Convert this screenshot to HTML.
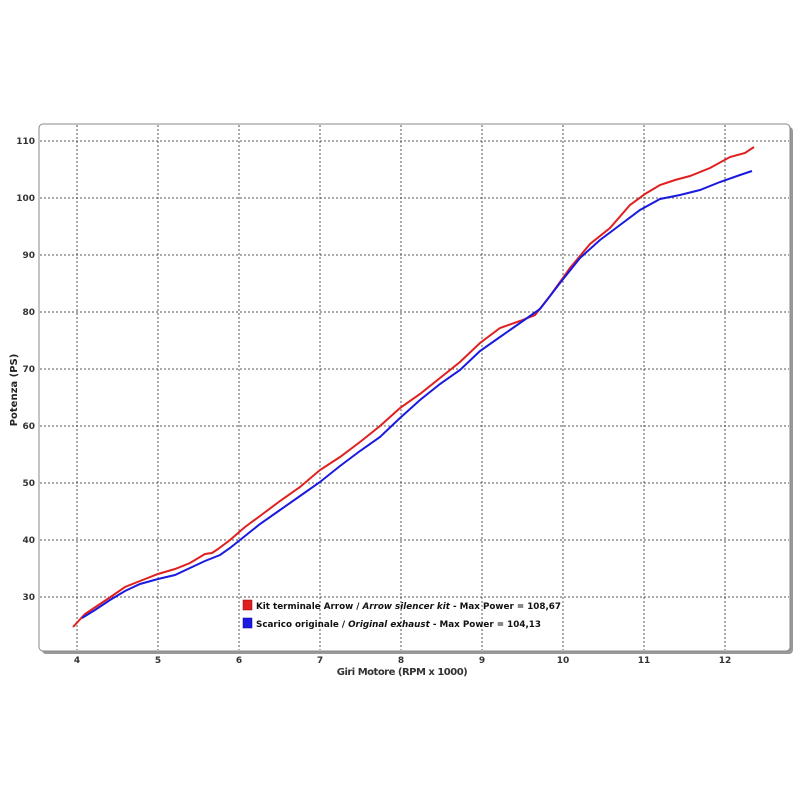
<!DOCTYPE html>
<html><head><meta charset="utf-8"><style>
html,body{margin:0;padding:0;background:#fff;width:800px;height:800px;overflow:hidden}
svg text{font-family:"DejaVu Sans","Liberation Sans",sans-serif}
</style></head><body>
<svg width="800" height="800" viewBox="0 0 800 800" xmlns="http://www.w3.org/2000/svg">
<rect x="42" y="127" width="751" height="527" rx="4" fill="#999"/>
<rect x="39" y="124" width="751" height="527" rx="4" fill="#fff" stroke="#888" stroke-width="1"/>
<g stroke="#555" stroke-width="1" stroke-dasharray="2,2" fill="none">
<line x1="77" y1="125" x2="77" y2="650"/><line x1="158" y1="125" x2="158" y2="650"/>
<line x1="239" y1="125" x2="239" y2="650"/><line x1="320" y1="125" x2="320" y2="650"/>
<line x1="401" y1="125" x2="401" y2="650"/><line x1="482" y1="125" x2="482" y2="650"/>
<line x1="563" y1="125" x2="563" y2="650"/><line x1="644" y1="125" x2="644" y2="650"/>
<line x1="725" y1="125" x2="725" y2="650"/>
<line x1="40" y1="141" x2="789" y2="141"/><line x1="40" y1="198" x2="789" y2="198"/>
<line x1="40" y1="255" x2="789" y2="255"/><line x1="40" y1="312" x2="789" y2="312"/>
<line x1="40" y1="369" x2="789" y2="369"/><line x1="40" y1="426" x2="789" y2="426"/>
<line x1="40" y1="483" x2="789" y2="483"/><line x1="40" y1="540" x2="789" y2="540"/>
<line x1="40" y1="597" x2="789" y2="597"/>
</g>
<g font-size="9" font-weight="bold" fill="#333" text-anchor="end">
<text x="35" y="144">110</text><text x="35" y="201">100</text><text x="35" y="258">90</text>
<text x="35" y="315">80</text><text x="35" y="372">70</text><text x="35" y="429">60</text>
<text x="35" y="486">50</text><text x="35" y="543">40</text><text x="35" y="600">30</text>
</g>
<g font-size="9" font-weight="bold" fill="#333" text-anchor="middle">
<text x="77" y="663">4</text><text x="158" y="663">5</text><text x="239" y="663">6</text>
<text x="320" y="663">7</text><text x="401" y="663">8</text><text x="482" y="663">9</text>
<text x="563" y="663">10</text><text x="644" y="663">11</text><text x="725" y="663">12</text>
<text x="402" y="675" font-size="10" letter-spacing="-0.5">Giri Motore (RPM x 1000)</text>
</g>
<text x="17" y="390" font-size="10" font-weight="bold" fill="#222" text-anchor="middle" transform="rotate(-90 17 390)">Potenza (PS)</text>
<polyline fill="none" stroke="#e02020" stroke-width="2" points="73,627 85,614 100,604 112,596 125,587 140,581 158,574 175,569 190,563 205,554 212,553 218,549 230,540 245,527 260,516 280,501 300,487 320,470 340,457 360,442 380,426 400,408 420,394 440,378 460,362 480,343 500,328 520,321 535,315 550,296 570,268 590,244 610,228 630,205 645,194 660,185 675,180 690,176 710,168 730,157 745,153 754,147"/>
<polyline fill="none" stroke="#1a1ae0" stroke-width="2" points="82,618 95,610 110,600 125,591 140,584 158,579 175,575 190,568 205,561 220,555 230,548 245,536 260,524 280,510 300,496 320,482 340,466 360,451 380,437 400,418 420,400 440,384 460,370 480,351 500,337 520,323 540,309 560,283 580,258 600,240 620,225 640,210 660,199 680,195 700,190 720,182 740,175 752,171"/>
<rect x="243" y="600" width="9" height="10" fill="#e02020" stroke="#800" stroke-width="0.5"/>
<rect x="243" y="618" width="9" height="10" fill="#1a1ae0" stroke="#008" stroke-width="0.5"/>
<g font-size="9" font-weight="bold" fill="#111">
<text x="256" y="609" textLength="305" lengthAdjust="spacingAndGlyphs">Kit terminale Arrow / <tspan font-style="italic">Arrow silencer kit</tspan> - Max Power = 108,67</text>
<text x="256" y="627" textLength="285" lengthAdjust="spacingAndGlyphs">Scarico originale / <tspan font-style="italic">Original exhaust</tspan> - Max Power = 104,13</text>
</g>
</svg>
</body></html>
